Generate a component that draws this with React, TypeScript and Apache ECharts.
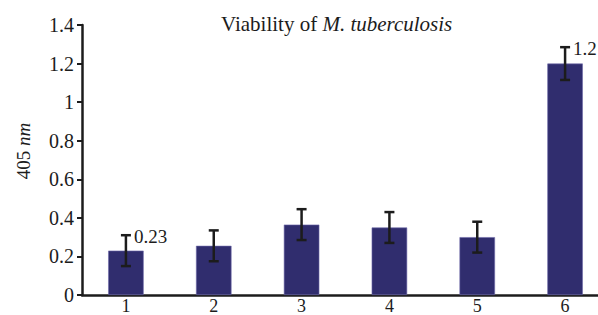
import React, { useEffect, useRef } from "react";
import * as echarts from "echarts";

const categories = ["1", "2", "3", "4", "5", "6"];
const values = [0.23, 0.255, 0.365, 0.35, 0.3, 1.2];
const errors = [0.08, 0.08, 0.08, 0.08, 0.08, 0.085];
const valueLabels = ["0.23", "", "", "", "", "1.2"];
const yMin = 0;
const yMax = 1.4;
const yInterval = 0.2;

const FONT = "Liberation Serif";
const INK = "#1c1c1c";

export default function App() {
  const ref = useRef<HTMLDivElement>(null);
  useEffect(() => {
    if (!ref.current) return;
    const chart = echarts.init(ref.current, null, { renderer: "svg" });
    chart.setOption({
      animation: false,
      backgroundColor: "#ffffff",
      textStyle: { fontFamily: FONT },
      title: {
        left: 221,
        top: 13,
        padding: 0,
        text: "Viability of {i|M. tuberculosis}",
        textStyle: {
          fontFamily: FONT,
          fontSize: 21,
          fontWeight: "normal",
          color: INK,
          rich: {
            i: { fontFamily: FONT, fontSize: 21, fontStyle: "italic", color: INK },
          },
        },
      },
      graphic: [
        {
          type: "text",
          x: 23,
          y: 151,
          rotation: Math.PI / 2,
          style: {
            text: "405 {i|nm}",
            fontFamily: FONT,
            fontSize: 19,
            fill: INK,
            align: "center",
            verticalAlign: "middle",
            rich: { i: { fontFamily: FONT, fontSize: 19, fontStyle: "italic", fill: INK } },
          },
        },
      ],
      grid: { left: 82, top: 25, width: 527, height: 270, outerBoundsMode: "none", containLabel: false },
      xAxis: {
        type: "category",
        data: categories,
        axisLine: { lineStyle: { color: INK, width: 2.5 } },
        axisTick: { show: false },
        axisLabel: { fontFamily: FONT, fontSize: 18, lineHeight: 14, color: INK, margin: 3.5 },
      },
      yAxis: {
        type: "value",
        min: yMin,
        max: yMax,
        interval: yInterval,
        splitLine: { show: false },
        axisLine: { show: true, lineStyle: { color: INK, width: 2.5 } },
        axisTick: { show: true, length: 5, lineStyle: { color: INK, width: 2 } },
        axisLabel: { fontFamily: FONT, fontSize: 20, color: INK, margin: 8 },
      },
      series: [
        {
          type: "bar",
          data: values,
          barWidth: "40.4%",
          itemStyle: { color: "#302d6e", borderColor: "#6b68a8", borderWidth: 0.6 },
        },
        {
          type: "custom",
          data: categories.map((c, i) => [i, values[i], errors[i]]),
          renderItem: (params: any, api: any) => {
            const x = api.value(0);
            const v = api.value(1);
            const e = api.value(2);
            const top = api.coord([x, v + e]);
            const bot = api.coord([x, v - e]);
            const half = 5;
            const style = { stroke: INK, lineWidth: 2.5 };
            const children: any[] = [
              { type: "line", shape: { x1: top[0], y1: top[1], x2: bot[0], y2: bot[1] }, style },
              { type: "line", shape: { x1: top[0] - half, y1: top[1], x2: top[0] + half, y2: top[1] }, style },
              { type: "line", shape: { x1: bot[0] - half, y1: bot[1], x2: bot[0] + half, y2: bot[1] }, style },
            ];
            const lbl = valueLabels[params.dataIndex];
            if (lbl) {
              children.push({
                type: "text",
                x: top[0] + 8,
                y: top[1] + 1,
                style: {
                  text: lbl,
                  fontFamily: FONT,
                  fontSize: 19,
                  fill: INK,
                  align: "left",
                  verticalAlign: "middle",
                },
              });
            }
            return { type: "group", children };
          },
          z: 5,
        },
      ],
    });
    return () => chart.dispose();
  }, []);
  return (
    <div
      ref={ref}
      style={{ position: "absolute", left: 0, top: 0, width: 598, height: 315 }}
    />
  );
}
